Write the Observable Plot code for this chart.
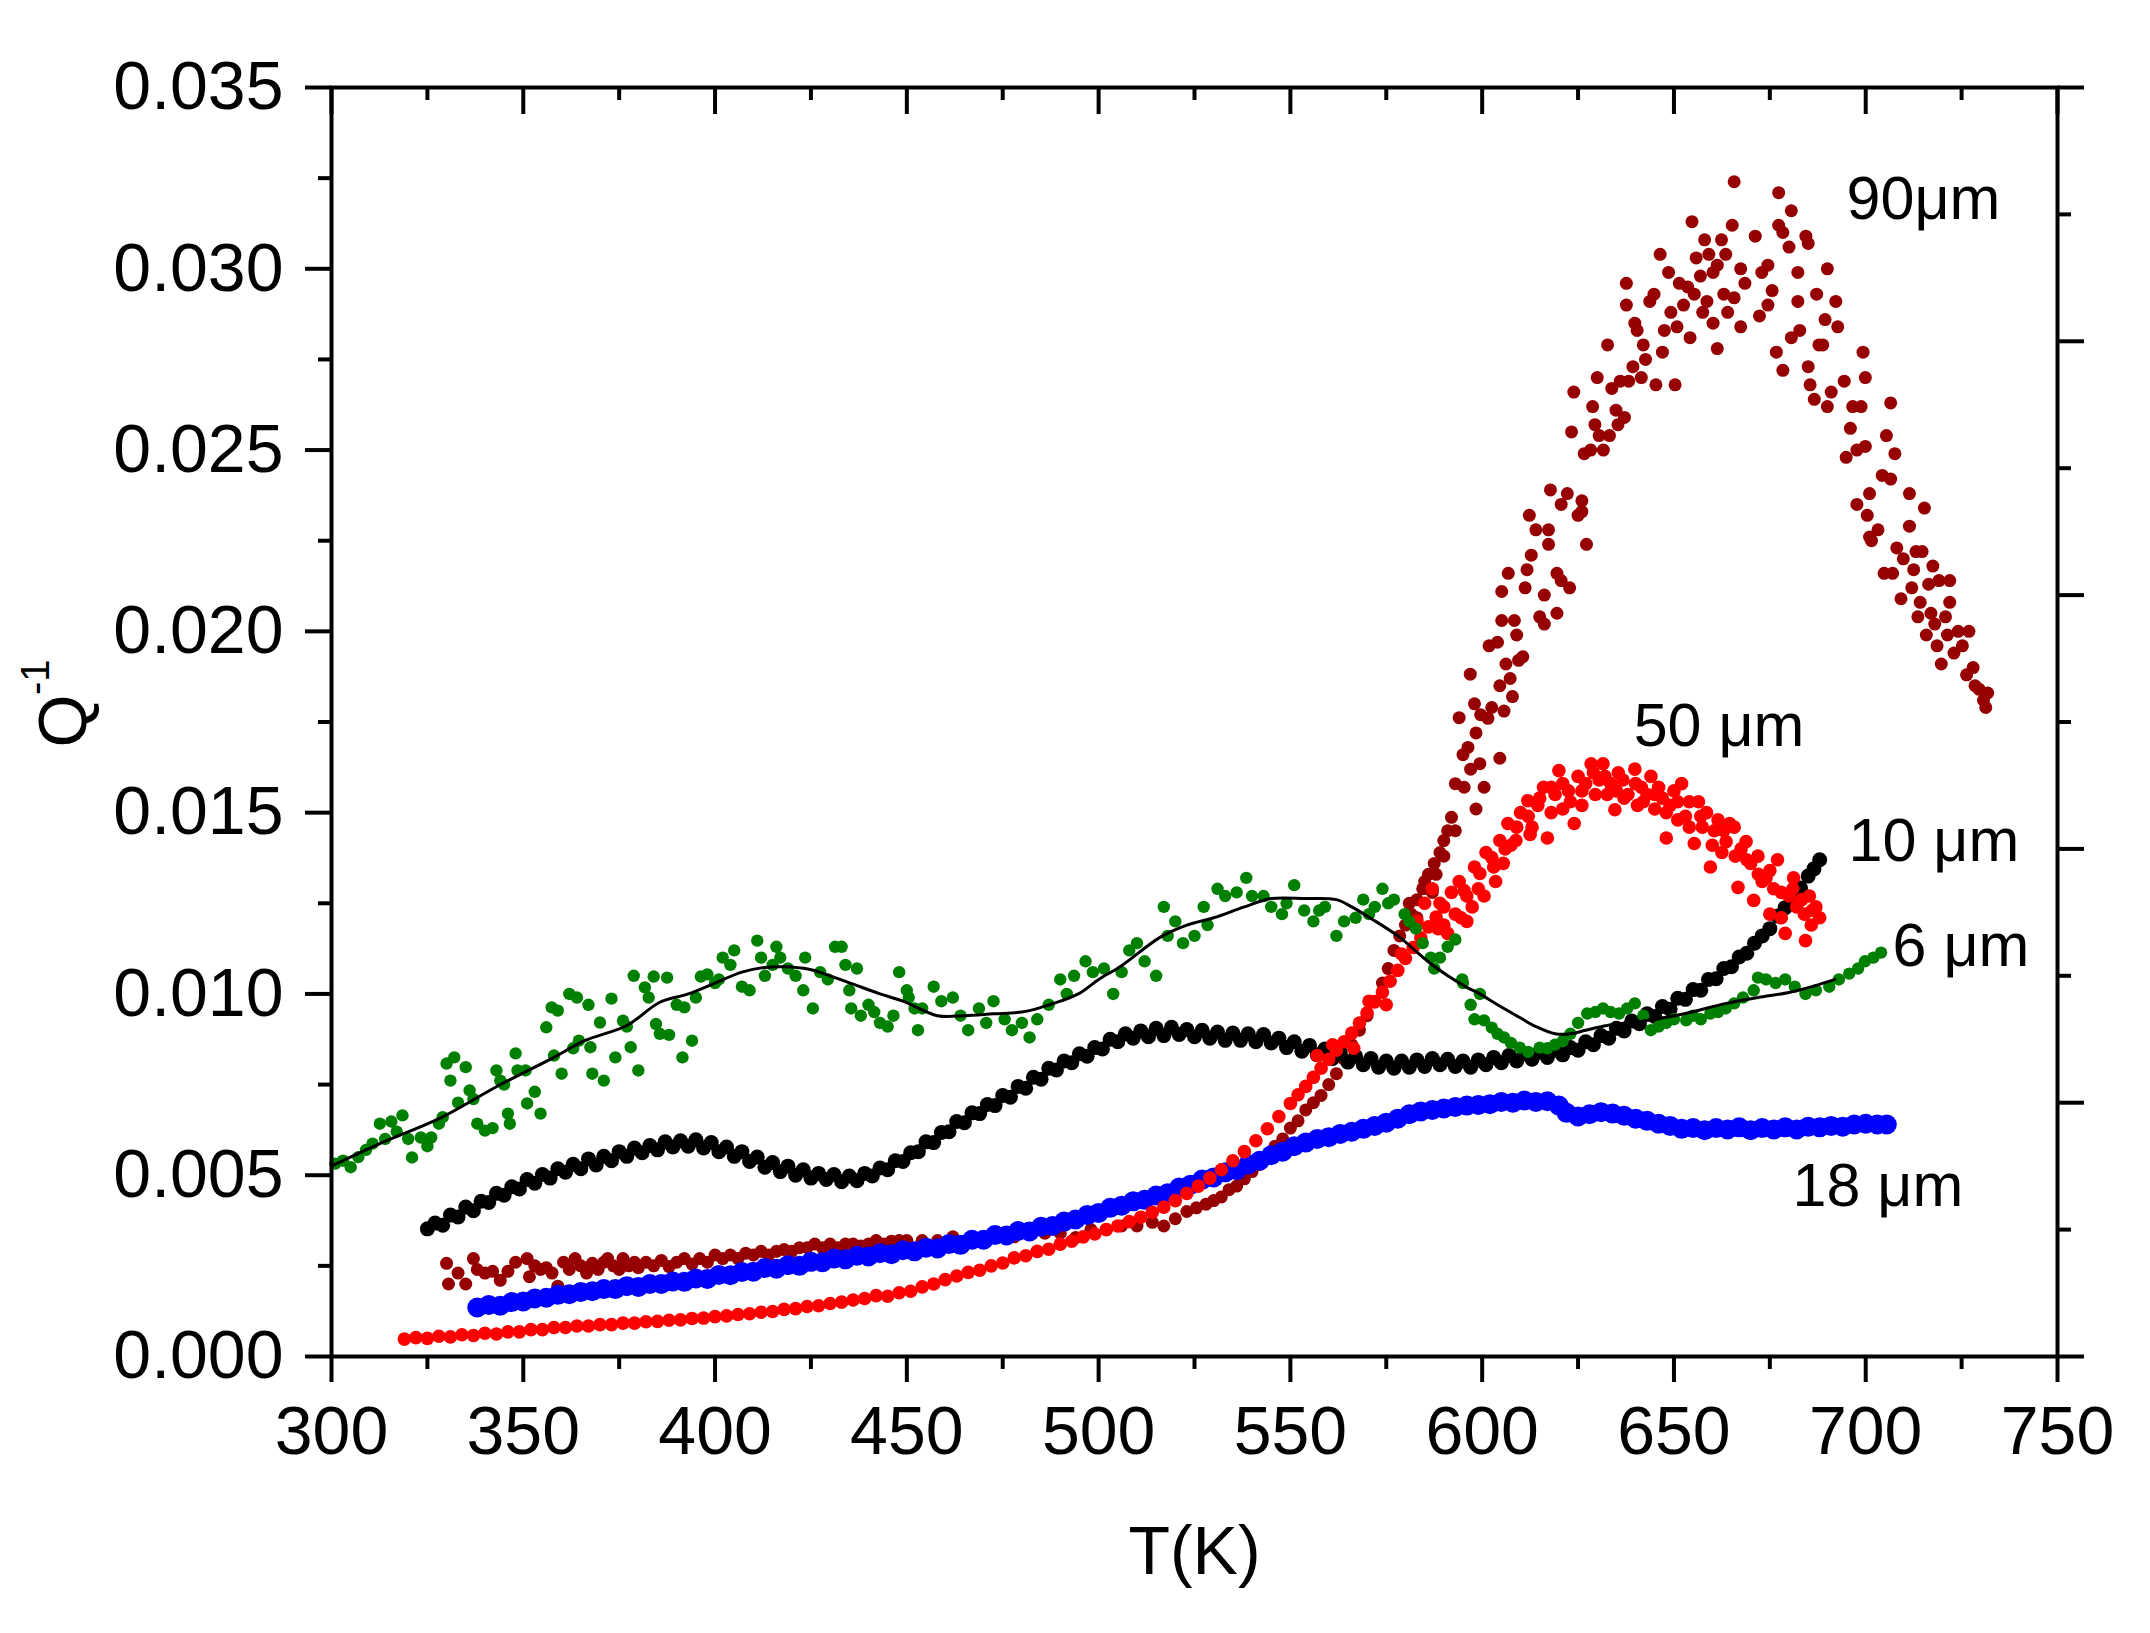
<!DOCTYPE html>
<html><head><meta charset="utf-8">
<script src="https://cdn.jsdelivr.net/npm/d3@7"></script>
<script src="https://cdn.jsdelivr.net/npm/@observablehq/plot@0.6"></script>
<style>html,body{margin:0;padding:0;background:#fff}svg{display:block}</style>
</head><body><div id="chart"></div>
<script>
// ---- axis ticks ----
const xMajor = [300,350,400,450,500,550,600,650,700,750];
const xMinor = [325,375,425,475,525,575,625,675,725];
const yMajor = [0,0.005,0.010,0.015,0.020,0.025,0.030,0.035];
const yMinor = [0.0025,0.0075,0.0125,0.0175,0.0225,0.0275,0.0325];
const rightMajor = [0,0.007,0.014,0.021,0.028,0.035];
const rightMinor = [0.0035,0.0105,0.0175,0.0245,0.0315];

// ---- series (T in K, Q^-1) ----
const s6 = [[301,.00532],[303,.0054],[305,.00522],[307,.0055],[309,.0057],[310.7,.00587],[312.6,.00642],[314,.0060],[315.6,.00648],[317,.0062],[318.5,.00665],[320,.0060],[321,.00549],[323.3,.00604],[325,.0058],[326,.00604],[328,.00642],[329,.0066],[330,.00808],[331,.00761],[332,.00825],[333,.0070],[335,.00798],[336,.00734],[337,.0071],[338,.00642],[340,.00623],[342,.0063],[343,.00789],[344,.00761],[345,.0075],[346,.0067],[346.5,.00642],[348,.00836],[348.5,.00789],[350.6,.00789],[351,.00698],[353,.0073],[354.5,.0067],[356,.00908],[357.4,.00963],[358,.0083],[359,.00954],[360,.0078],[362,.0100],[363,.0085],[364,.0099],[364.5,.00871],[367,.0097],[367.5,.00853],[368,.0078],[370,.00921],[371,.00761],[373,.00987],[374,.00825],[376,.00926],[377,.0091],[378,.00853],[378.8,.0105],[380,.00789],[381.7,.01018],[382.7,.0099],[384,.01048],[384.6,.00917],[385.6,.0089],[387.5,.01045],[388,.00887],[390,.0097],[391.5,.00825],[392,.00963],[394,.00871],[395,.0099],[396.3,.01048],[398,.01054],[400,.0103],[401,.0104],[402,.0110],[404,.0108],[405,.0112],[407,.0102],[409,.0101],[411,.01147],[412,.0110],[413,.0105],[415,.0108],[416,.0113],[417,.0110],[419,.0107],[421,.0105],[423,.0101],[423.5,.0110],[425.5,.0096],[427.4,.0106],[429.4,.0104],[431.3,.0113],[433,.0113],[434,.0108],[435,.0101],[435.5,.0096],[437,.0107],[438,.0094],[440,.0097],[441.5,.0095],[443,.0092],[445,.0091],[446.5,.0094],[448,.0106],[450,.0101],[450.5,.0099],[452,.0096],[452.9,.0090],[454,.0096],[457,.0102],[459,.0098],[462,.0099],[464,.0094],[466,.0090],[468.8,.0096],[470.7,.0092],[472.6,.0098],[475.5,.0093],[477.4,.0090],[480,.0092],[482,.0088],[484,.0093],[487,.0097],[490,.0104],[491.7,.0100],[493.6,.0105],[496.6,.0109],[498.5,.0106],[501.4,.0107],[503.8,.0100],[506,.0106],[508,.0112],[510,.0114],[512,.0109],[515,.0105],[517,.0124],[518,.0116],[520,.0120],[522,.0114],[525,.0116],[527.4,.0124],[528.4,.0119],[531,.0129],[533,.0127],[536,.0128],[538.5,.0132],[540,.0127],[543,.0127],[545,.0124],[547.8,.0122],[549,.0125],[551,.0130],[553.6,.0123],[556,.0120],[557.5,.0123],[559,.0124],[562,.0116],[564,.0120],[567,.0121],[569,.0126],[570.5,.0122],[572,.0124],[574,.0129],[575.5,.0125],[577,.0126],[579.8,.0122],[581,.0120],[582.7,.0118],[584.5,.0114],[586.6,.0110],[587.5,.0107],[589,.0110],[591,.0113],[593,.0115],[594.8,.0104],[595,.0103],[597,.0097],[598,.0093],[599.4,.0100],[600.5,.00927],[602.5,.00907],[604,.0089],[605.7,.0088],[607.5,.00865],[609.8,.00852],[612,.0084],[615,.00852],[617,.0085],[619,.0086],[621,.0087],[623,.0089],[625,.0092],[627.4,.00946],[629.5,.0095],[631.5,.0096],[633.5,.0095],[635.7,.00946],[637.8,.0096],[639.8,.00974],[642,.0094],[644,.0090],[646,.0091],[648,.0092],[650,.0093],[653.2,.00927],[655,.0094],[657,.0093],[659.5,.00946],[661.5,.0095],[663.5,.0096],[665.7,.00974],[668,.0099],[670.8,.0101],[671.9,.01045],[674,.0104],[676.5,.0103],[679,.0104],[681.5,.0102],[684.3,.0100],[687,.0101],[690.5,.0102],[693,.0104],[695.7,.01056],[698,.0107],[699.8,.0109],[702,.0110],[704,.01114]];

const fit6 = [[300,.00525],[312.6,.00587],[329,.00661],[343,.00744],[358,.00825],[366,.00871],[377,.00913],[385.6,.00977],[393,.0100],[400,.0103],[407,.0106],[413,.01073],[418,.01075],[424.5,.01068],[430,.0105],[436,.01027],[443,.0100],[449,.0098],[458,.0094],[465,.0094],[472.6,.00945],[480,.0095],[485,.00963],[494.7,.0100],[500,.0104],[506,.01078],[516,.01156],[523,.0119],[530,.0121],[538,.0124],[545,.01263],[554,.01263],[562,.0126],[566,.0124],[570.7,.0121],[578,.0116],[587,.0108],[595.7,.0102],[599.4,.0100],[604,.0097],[609.8,.00935],[614,.0091],[619,.0089],[623,.0089],[627,.0090],[632.6,.00913],[643,.00927],[653,.00946],[663.6,.00974],[671.9,.0099],[680,.01004],[686,.0102],[692,.0104]];

const s10 = [[325,.00352],[327,.00368],[329,.00362],[331,.00390],[333,.00385],[335,.00412],[337,.00402],[339,.00428],[341,.00425],[343,.00450],[345,.00445],[347,.00468],[349,.00462],[351,.00488],[353,.00478],[355,.00502],[357,.00492],[359,.00518],[361,.00508],[363,.00530],[365,.00518],[367,.00545],[369,.00528],[371,.00552],[373,.00540],[375,.00565],[377,.00552],[379,.00575],[381,.00562],[383,.00582],[385,.00570],[387,.00592],[389,.00578],[391,.00595],[393,.00580],[395,.00598],[397,.00575],[399,.00590],[401,.00565],[403,.00578],[405,.00552],[407,.00565],[409,.00538],[411,.00550],[413,.00522],[415,.00535],[417,.00510],[419,.00525],[421,.00500],[423,.00515],[425,.00492],[427,.00505],[429,.00488],[431,.00502],[433,.00482],[435,.00498],[437,.00485],[439,.00505],[441,.00498],[443,.00520],[445,.00515],[447,.00540],[449,.00538],[451,.00562],[453,.00565],[455,.00592],[457,.00590],[459,.00618],[461,.00620],[463,.00648],[465,.00645],[467,.00672],[469,.00670],[471,.00695],[473,.00692],[475,.00720],[477,.00715],[479,.00745],[481,.00740],[483,.00770],[485,.00765],[487,.00795],[489,.00790],[491,.00815],[493,.00810],[495,.00835],[497,.00828],[499,.00852],[501,.00848],[503,.00875],[505,.00868],[507,.00890],[509,.00878],[511,.00898],[513,.00882],[515,.00905],[517,.00885],[519,.00908],[521,.00888],[523,.00902],[525,.00882],[527,.00900],[529,.00878],[531,.00895],[533,.00872],[535,.00892],[537,.00872],[539,.00890],[541,.00868],[543,.00888],[545,.00865],[547,.00878],[549,.00852],[551,.00868],[553,.00842],[555,.00858],[557,.00832],[559,.00848],[561,.00822],[563,.00838],[565,.00812],[567,.00828],[569,.00805],[571,.00822],[573,.00798],[575,.00815],[577,.00795],[579,.00815],[581,.00798],[583,.00818],[585,.00800],[587,.00822],[589,.00805],[591,.00820],[593,.00800],[595,.00815],[597,.00798],[599,.00818],[601,.00805],[603,.00825],[605,.00810],[607,.00830],[609,.00815],[611,.00835],[613,.00820],[615,.00840],[617,.00825],[619,.00845],[621,.00832],[623,.00852],[625,.00845],[627,.00868],[629,.00860],[631,.00885],[633,.00878],[635,.00905],[637,.00898],[639,.00925],[641,.00918],[643,.00945],[645,.00938],[647,.00965],[649,.00958],[651,.00988],[653,.00985],[655,.01012],[657,.01010],[659,.01040],[661,.01042],[663,.01070],[665,.01075],[667,.01102],[669,.01112],[671,.01140],[673,.01160],[675,.01180],[677,.01215],[679,.01238],[681,.01270],[683,.01292],[685,.01325],[686.5,.01345],[688,.01370]];

const s18 = [[338,.00135],[341,.00142],[344,.00140],[347,.00150],[350,.00152],[353,.00160],[356,.00162],[359,.00170],[362,.00172],[365,.00178],[368,.00180],[371,.00186],[374,.00186],[377,.00194],[380,.00192],[383,.00200],[386,.00200],[389,.00207],[392,.00206],[395,.00215],[398,.00214],[401,.00225],[404,.00224],[407,.00233],[410,.00234],[413,.00244],[416,.00242],[419,.00252],[422,.00250],[425,.00261],[428,.00260],[431,.00270],[434,.00268],[437,.00278],[440,.00276],[443,.00285],[446,.00282],[449,.00293],[452,.00290],[455,.00300],[458,.00298],[461,.00310],[464,.00308],[467,.00322],[470,.00322],[473,.00335],[476,.00334],[479,.00346],[482,.00345],[485,.00358],[488,.00360],[491,.00372],[494,.00378],[497,.00390],[500,.00396],[503,.00410],[506,.00416],[509,.00428],[512,.00432],[515,.00444],[518,.00450],[521,.00466],[524,.00474],[527,.00488],[530,.00494],[533,.00508],[536,.00514],[539,.00530],[542,.00540],[545,.00555],[548,.00565],[551,.00580],[554,.00590],[557,.00600],[560,.00605],[563,.00614],[566,.00620],[569,.00628],[572,.00636],[575,.00645],[578,.00656],[581,.00668],[584,.00676],[587,.00680],[590,.00684],[593,.00688],[596,.00692],[599,.00694],[602,.00696],[605,.00702],[608,.00700],[611,.00706],[614,.00702],[617,.00704],[620,.00692],[622,.00672],[625,.00662],[628,.00668],[631,.00674],[634,.00670],[637,.00664],[640,.00656],[643,.00650],[646,.00642],[649,.00636],[652,.00628],[655,.00630],[658,.00624],[661,.00630],[664,.00626],[667,.00632],[670,.00624],[673,.00630],[676,.00626],[679,.00632],[682,.00626],[685,.00634],[688,.00632],[691,.00636],[694,.00634],[697,.00640],[700,.00642],[703,.00640],[705.5,.00640]];

const s50 = [[319,.00048],[322,.00052],[325,.00050],[328,.00056],[331,.00054],[334,.00060],[337,.00058],[340,.00064],[343,.00062],[346,.00068],[349,.00068],[352,.00074],[355,.00074],[358,.00080],[361,.00080],[364,.00084],[367,.00084],[370,.00088],[373,.00088],[376,.00092],[379,.00092],[382,.00096],[385,.00097],[388,.00100],[391,.00101],[394,.00105],[397,.00106],[400,.00110],[403,.00112],[406,.00116],[409,.00118],[412,.00122],[415,.00124],[418,.00130],[421,.00132],[424,.00138],[427,.00140],[430,.00146],[433,.00150],[436,.00156],[439,.00160],[442,.00168],[445,.00166],[448,.00176],[451,.00180],[454,.00192],[457,.00200],[460,.00212],[463,.00222],[466,.00232],[469,.00238],[472,.00250],[475,.00258],[478,.00272],[481,.00278],[484,.00290],[487,.00296],[490,.00310],[493,.00318],[496,.00330],[499,.00338],[502,.00350],[505,.00360],[508,.00372],[511,.00384],[514,.00398],[517,.00412],[520,.00430],[523,.00450],[526,.00470],[529,.00492],[532,.00515],[535,.00540],[538,.00565],[541,.00595],[544,.00628],[547,.00662],[550,.00698],[552,.00722],[554,.00745],[556,.00770],[557,.0083],[558,.00795],[560,.00820],[561,.0086],[562,.00845],[564,.00868],[566,.00892],[566.5,.0085],[568,.00920],[570,.00948],[570.5,.0098],[572,.00978],[574,.01005],[575,.0097],[576,.01035],[578,.01065],[579,.0111],[580,.01098],[582,.01128],[583,.0120],[584,.01155],[585,.0125],[586,.01185],[587,.0129],[588,.01212],[588.5,.0118],[590,.01240],
[589,.0125],[590,.0119],[591,.01167],[592,.0128],[593,.0122],[594,.0131],[594.5,.0121],[595.3,.01285],[596,.0120],[597.4,.0124],[598,.0135],[599.4,.01332],[600.5,.0127],[601,.0139],[602.5,.01376],[603.5,.0131],[604.6,.01423],[605.5,.0136],[606.7,.0147],[607.5,.0141],[608.8,.01423],[610,.0150],[611.9,.01533],[612.5,.0144],[613,.0146],[614.5,.0152],[616,.0157],[617,.0143],[618,.0150],[619,.0155],[620,.01616],[621,.0151],[622.5,.0156],[624,.0147],[625,.0160],[626,.0152],[627,.0158],[628.4,.01635],[629.5,.0155],[630.5,.0159],[631.5,.01635],[632.6,.0155],[633.5,.0158],[634.6,.01508],[635.5,.0161],[636.7,.0159],[638,.0155],[639.8,.0162],[640.5,.0152],[641.5,.0157],[643,.0155],[644,.0160],[645,.0151],[646,.0157],[647,.0154],[648,.0143],[649,.0152],[650,.0156],[651,.0148],[652,.0158],[653,.0149],[654,.0153],[655.3,.01415],[656.4,.0153],[657.4,.0146],[658.5,.0150],[659.5,.0135],[660.5,.0145],[661.5,.0148],[662.5,.0139],[663.6,.0142],[664.5,.0147],[665.7,.0146],[666.7,.01294],[667.5,.0140],[668.8,.0142],[670,.0136],[670.8,.01258],[671.9,.0138],[673,.0131],[674,.0132],[675,.0122],[676,.0129],[677,.0137],[678,.0121],[679,.01167],[680,.0127],[681.2,.0132],[682,.0124],[683.3,.0126],[684.3,.01147],[685.3,.0127],[685.8,.0119],[687,.0124],
[596,.0127],[599,.0129],[603,.0135],[606,.0140],[609,.0146],[612,.0149],[615,.0154],[618,.0157],[621,.0158],[623,.0153],[626,.0156],[629,.0161],[632,.0160],[635,.0156],[637,.0154],[640,.0158],[642,.0153],[645,.0155],[648,.0150],[651,.0153],[654,.0146],[657,.0149],[660,.0141],[663,.0145],[666,.0138],[669,.0137],[672,.0133],[675,.0134],[678,.0128],[681,.0129],[684,.0122],[686,.0123],[688,.0121]];

const s90 = [[330,.00257],[330.5,.0020],[333,.0023],[335,.0020],[337,.0027],[338,.0024],[340,.0023],[342,.00235],[344,.0021],[346,.00235],[348,.0026],[351,.0027],[351.6,.0022],[353,.0025],[354.5,.0024],[356,.00245],[357.5,.0023],[359,.00194],[360.5,.0026],[362,.0024],[363.5,.0027],[365,.0025],[366.5,.0023],[368,.00257],[369.5,.0024],[371,.0026],[372,.0027],[373.5,.0025],[375,.0024],[376,.0027],[377.5,.0025],[379,.0026],[380,.00245],[382,.0026],[384,.0025],[386,.00265],[388,.00248],[390,.0026],[392,.0027],[394,.00255],[396,.0027],[398,.0026],[400,.0028],[402,.0027],[404,.0028],[406,.0027],[408,.00285],[410,.0028],[412,.0029],[414,.0028],[416,.0029],[418,.00295],[420,.0029],[422,.0030],[424,.0030],[426,.0031],[428,.0030],[430,.0031],[432,.0030],[434,.0031],[436,.0031],[438,.00305],[440,.0031],[442,.0032],[444,.0031],[446,.00318],[448,.0032],[450,.0032],[454,.0032],[458,.0032],[462,.0033],[466,.0032],[470,.0033],[474,.0034],[478,.0033],[482,.0034],[486,.0034],[490,.0034],[494,.00328],[498,.0035],[502,.0035],[506,.0036],[510,.0036],[514,.0037],[517,.0036],[520,.0038],[523,.0040],[525.5,.0041],[528,.0042],[530,.0043],[532,.0044],[534,.0046],[536,.0047],[538,.0049],[540,.0051],[542,.0053],[544,.0055],[546,.0058],[548,.0060],[550,.0063],[552,.0065],[554,.0068],[556,.0070],[558,.0072],[560,.0075],[562,.0078],[564,.0082],[566,.0086],[568,.0090],[570,.0094],[572,.0098],[574,.0103],[575.5,.0107],[577,.0112],[578.5,.0116],[580,.0119],[581,.0125],[581.5,.0122],[583,.0126],[583,.0121],[584.5,.0129],[585,.0131],[586,.0133],[587,.0128],[587.5,.0136],[588,.0133],[589,.0139],[590,.0138],[590,.01423],[591,.0145],[592,.01487],[593,.0145],[593,.0158],[594,.01762],[595,.0166],[595.3,.0157],[596.3,.0168],[596.9,.01882],[597,.0162],[598,.0180],[598.4,.0172],[598.4,.0151],[599.4,.01635],[599.6,.0177],[600.5,.0157],[601.5,.0176],[601.8,.0196],[602.5,.0179],[604,.0197],[604.6,.0165],[604.6,.0185],[605.1,.0203],[605.1,.0211],[605.7,.0178],[606.2,.0191],[606.8,.0216],[607.3,.0187],[607.9,.0182],[608.4,.0203],[609,.0199],[609.5,.0192],[610.6,.0193],[611.2,.0212],[611.7,.0217],[612.3,.0232],[612.8,.0221],[614,.0228],[615,.0204],[616.2,.0210],[616.2,.0202],[617.3,.0228],[617.3,.0224],[617.8,.0239],[619.5,.0205],[619.5,.0216],[620.6,.0235],[620.6,.0214],[622.2,.0238],[622.8,.0212],[623.3,.0255],[623.9,.0266],[625,.0232],[626,.0233],[626,.0236],[626.6,.0249],[627.2,.0224],[628.3,.0250],[628.8,.0262],[629.4,.0257],[630,.0270],[630.5,.0254],[631.6,.0250],[632.7,.0279],[633.2,.0254],[633.8,.0267],[634.9,.0261],[635.4,.0257],[636,.0269],[637.1,.0259],[637.6,.0296],[637.6,.0290],[638.2,.0269],[639.3,.0273],[639.8,.0285],[640.4,.0283],[641.5,.0270],[642,.0279],[642.6,.0275],[643.7,.0291],[644.8,.0293],[645.3,.0268],[646.4,.0304],[647,.0277],[647.5,.0283],[648.6,.0299],[649.2,.0288],[650.3,.0268],[650.8,.0284],[651.4,.0296],[652.5,.0290],[653.6,.0295],[654.2,.0281],[654.7,.0313],[655.3,.0293],[655.8,.0303],[656.9,.0298],[657.5,.0288],[658,.0308],[658.6,.0291],[659.1,.0304],[660.2,.0285],[660.2,.0299],[661.3,.0301],[661.3,.0278],[662.4,.0308],[663,.0293],[663.5,.0304],[664,.0288],[665.2,.0312],[665.7,.0324],[665.7,.0292],[667.4,.0284],[667.4,.0300],[668.5,.0296],[671.2,.0309],[672.3,.0287],[672.9,.0299],[674.5,.0301],[674.5,.0290],[675.6,.0294],[676.7,.0277],[677.3,.0321],[677.3,.0312],[678.4,.0272],[678.4,.0310],[680,.0306],[680.6,.0316],[680.6,.0281],[682.3,.0299],[682.3,.0291],[682.8,.0283],[684.4,.0309],[685,.0273],[685,.0307],[685.5,.0268],[686.6,.0264],[687.2,.0293],[687.8,.0279],[688.8,.0279],[689.4,.0286],[690,.0300],[690,.0262],[691,.0266],[692.2,.0291],[692.7,.0284],[694.4,.0269],[694.9,.0248],[696,.0256],[696.6,.0262],[697.7,.0250],[697.7,.0235],[698.8,.0262],[699.3,.0277],[699.9,.0270],[699.9,.0251],[700.4,.0232],[701,.0238],[701,.0226],[701.5,.0225],[703.2,.0228],[704.3,.0243],[704.8,.0216],[705.4,.0254],[706.5,.0242],[706.5,.0263],[707,.0216],[707.6,.0249],[708.1,.0223],[709.2,.0209],[709.8,.0220],[711.4,.0238],[711.4,.0229],[712,.0212],[712.5,.0217],[713.1,.0222],[713.6,.0204],[714.2,.0208],[714.7,.0222],[715.3,.0234],[715.8,.0199],[716.4,.0213],[717,.0205],[717.5,.0218],[718,.0202],[718.6,.0196],[719.1,.0214],[719.7,.0191],[720.8,.0204],[721.3,.0199],[721.9,.0214],[721.9,.0208],[723,.0194],[724.1,.0200],[725.2,.0196],[726.3,.0188],[726.9,.0200],[728,.0190],[728.5,.0185],[729.6,.0184],[730.7,.0181],[731.3,.0179],[731.8,.0183]];

const labels = [
  {t: 695.0, q: 0.03136, text: "90μm"},
  {t: 639.5, q: 0.01685, text: "50 μm"},
  {t: 695.5, q: 0.01368, text: "10 μm"},
  {t: 707.0, q: 0.01076, text: "6 μm"},
  {t: 680.9, q: 0.00414, text: "18 μm"}
];

const PH = 1269; // plot height in px
const toXY = d => ({T: d[0], Q: d[1]});
const dots = (arr, color, r) => Plot.dot(arr.map(toXY), {x: "T", y: "Q", r, fill: color, stroke: "none"});

const chart = Plot.plot({
  width: 2150, height: 1633,
  marginLeft: 331, marginRight: 93, marginTop: 87, marginBottom: 277,
  x: {domain: [300, 750]},
  y: {domain: [0, 0.035]},
  style: {fontFamily: "'Liberation Sans', Arial, sans-serif", background: "#fff", color: "#000", overflow: "visible"},
  marks: [
    dots(s90, "#960000", 6.5),
    dots(s18, "#0000ff", 10),
    dots(s10, "#000000", 7.5),
    dots(s50, "#ff0000", 6.8),
    dots(s6, "#008000", 6.2),
    Plot.line(fit6.map(toXY), {x: "T", y: "Q", stroke: "#000", strokeWidth: 3, curve: "catmull-rom"}),
    // bottom axis
    Plot.axisX({ticks: xMajor, tickSize: 26, tickPadding: 23, fontSize: 68, strokeWidth: 4, tickFormat: d3.format("d"), label: null}),
    Plot.axisX({ticks: xMinor, tickSize: 13, strokeWidth: 4, tickFormat: () => "", label: null}),
    // left axis
    Plot.axisY({ticks: yMajor, tickSize: 26, tickPadding: 22, fontSize: 68, strokeWidth: 4, tickFormat: d3.format(".3f"), label: null}),
    Plot.axisY({ticks: yMinor, tickSize: 13, strokeWidth: 4, tickFormat: () => "", label: null}),
    // right axis (unlabelled)
    Plot.axisY({anchor: "right", ticks: rightMajor, tickSize: 26, strokeWidth: 4, tickFormat: () => "", label: null}),
    Plot.axisY({anchor: "right", ticks: rightMinor, tickSize: 13, strokeWidth: 4, tickFormat: () => "", label: null}),
    // top axis inward ticks
    Plot.ruleX(xMajor, {x: d => d, insetBottom: PH - 27, strokeWidth: 4}),
    Plot.ruleX(xMinor, {x: d => d, insetBottom: PH - 13, strokeWidth: 4}),
    Plot.frame({strokeWidth: 4}),
    // series labels
    Plot.text(labels, {x: "t", y: "q", text: "text", textAnchor: "start", lineAnchor: "bottom", fontSize: 61, fill: "#000"}),
    // axis titles
    Plot.text(["T(K)"], {frameAnchor: "bottom", dy: 217, lineAnchor: "bottom", fontSize: 68, fill: "#000"}),
    Plot.text(["Q"], {frameAnchor: "left", rotate: -90, textAnchor: "start", lineAnchor: "bottom", dx: -246, dy: 25.5, fontSize: 68, fill: "#000"}),
    Plot.text(["-1"], {frameAnchor: "left", rotate: -90, textAnchor: "start", lineAnchor: "bottom", dx: -283, dy: -27, fontSize: 40, fill: "#000"})
  ]
});
document.getElementById("chart").appendChild(chart);
</script>
</body></html>
